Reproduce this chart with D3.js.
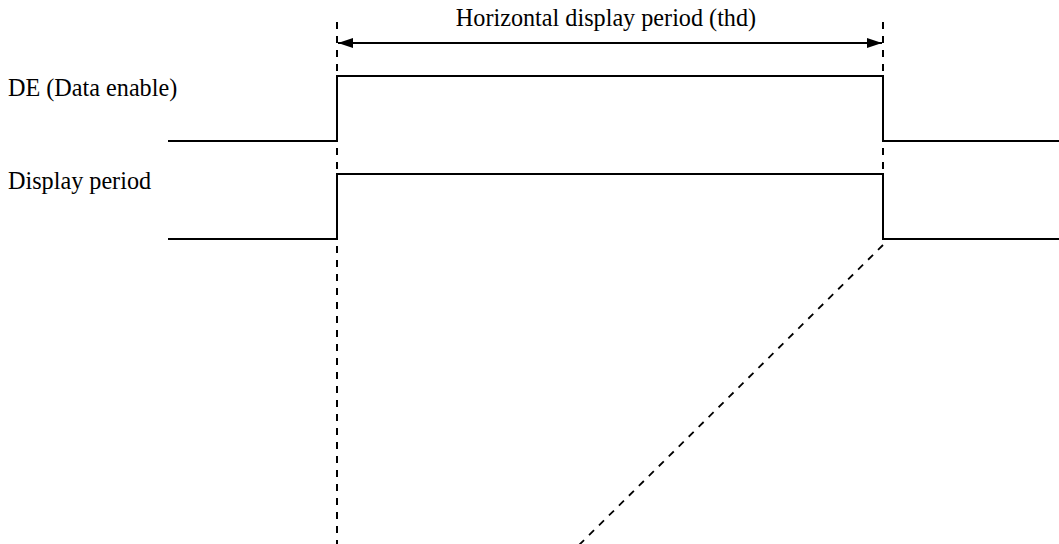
<!DOCTYPE html>
<html><head><meta charset="utf-8">
<script src="https://cdn.jsdelivr.net/npm/d3@7"></script>
<style>html,body{margin:0;padding:0;background:#fff;}svg{display:block;}</style>
</head><body>
<script>
// timing data (arbitrary time units)
const signals = ["DE (Data enable)", "Display period"];
const edgeTimes = [0, 169, 715, 891];        // start, rise, fall, end
const levels = [0, 1, 0];                    // level in each segment
const periodLabel = "Horizontal display period (thd)";
const projectionEndTime = 410;               // time where the diagonal leaves the view

const W = 1059, H = 544;
const svg = d3.select("body").append("svg").attr("width", W).attr("height", H);

const x = d3.scaleLinear().domain([0, 891]).range([168, 1059]);
const laneTop = d3.scaleLinear().domain([0, 1]).range([76, 174]);   // lane index -> high-level y
const amp = 65;
function yOf(i, lvl) { return d3.scaleLinear().domain([0, 1]).range([laneTop(i) + amp, laneTop(i)])(lvl); }

const font = "'Liberation Serif','Times New Roman',serif";
const fs = 24.2;

// waveforms
signals.forEach((s, i) => {
  const pts = [];
  levels.forEach((l, k) => {
    pts.push([x(edgeTimes[k]), yOf(i, l)]);
    pts.push([x(edgeTimes[k + 1]), yOf(i, l)]);
  });
  svg.append("path").attr("d", d3.line()(pts))
    .attr("fill", "none").attr("stroke", "#000").attr("stroke-width", 2);
  svg.append("text").attr("x", 8).attr("y", yOf(i, 1) + (i === 0 ? 20 : 15))
    .attr("font-family", font).attr("font-size", fs).text(s);
});

// dashed guide lines
const dash = "7,7";
svg.append("line").attr("x1", x(edgeTimes[1])).attr("x2", x(edgeTimes[1]))
  .attr("y1", 22).attr("y2", H).attr("stroke", "#000").attr("stroke-width", 2).attr("stroke-dasharray", dash);
const lowY = yOf(1, 0);
svg.append("line").attr("x1", x(edgeTimes[2])).attr("x2", x(edgeTimes[2]))
  .attr("y1", 22).attr("y2", lowY).attr("stroke", "#000").attr("stroke-width", 2).attr("stroke-dasharray", dash);
svg.append("line").attr("x1", x(edgeTimes[2])).attr("y1", lowY + 6)
  .attr("x2", x(projectionEndTime)).attr("y2", H + 2)
  .attr("stroke", "#000").attr("stroke-width", 1.8).attr("stroke-dasharray", dash);

// arrow
const defs = svg.append("defs");
["s", "e"].forEach(k => {
  defs.append("marker").attr("id", "m" + k).attr("viewBox", "0 0 15 10")
    .attr("refX", k === "e" ? 15 : 0).attr("refY", 5)
    .attr("markerWidth", 15).attr("markerHeight", 10).attr("markerUnits", "userSpaceOnUse")
    .attr("orient", "auto")
    .append("path").attr("d", k === "e" ? "M0,0L15,5L0,10Z" : "M15,0L0,5L15,10Z").attr("fill", "#000");
});
svg.append("line").attr("x1", x(edgeTimes[1]) + 1).attr("x2", x(edgeTimes[2]) - 1)
  .attr("y1", 43).attr("y2", 43).attr("stroke", "#000").attr("stroke-width", 2)
  .attr("marker-start", "url(#ms)").attr("marker-end", "url(#me)");
svg.append("text").attr("x", (x(edgeTimes[1]) + x(edgeTimes[2])) / 2 - 4).attr("y", 26)
  .attr("text-anchor", "middle").attr("font-family", font).attr("font-size", fs).text(periodLabel);
</script>
</body></html>
